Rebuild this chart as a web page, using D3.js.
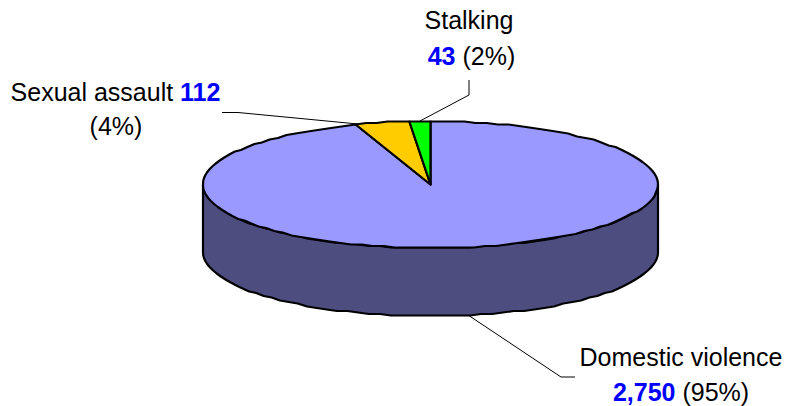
<!DOCTYPE html>
<html>
<head>
<meta charset="utf-8">
<script src="https://cdnjs.cloudflare.com/ajax/libs/d3/7.8.5/d3.min.js"></script>
<style>
    html, body { margin: 0; padding: 0; background: #fff; }
    text { font-family: "Liberation Sans", Arial, sans-serif; font-size: 25px; fill: #000; }
    .num { font-weight: bold; fill: #0000ff; }
</style>
</head>
<body>
<div id="chart"></div>
<script>
var categories = ["Domestic violence", "Sexual assault", "Stalking"];
var counts = [2750, 112, 43];
var percents = ["95%", "4%", "2%"];
var colors = ["#9999ff", "#ffcc00", "#00ff00"];

var width = 785, height = 406;
var cx = 430.5, cy = 184.5, rx = 227.5, ry = 63.5, depth = 68;
var grid = 1.5; // the original outline is coarse, snap the rim to a grid

var svg = d3.select("#chart").append("svg")
    .attr("width", width)
    .attr("height", height)
    .style("display", "block");

// tilted pie: unit circle squashed onto an ellipse
var xScale = d3.scaleLinear().domain([-1, 1]).range([cx - rx, cx + rx]);
var yScale = d3.scaleLinear().domain([-1, 1]).range([cy - ry, cy + ry]);

var slices = d3.pie().sort(null).startAngle(0).endAngle(2 * Math.PI)(counts);

function snap(v) {
    return Math.round(v / grid) * grid;
}

function rim(a0, a1, dy) {
    var n = Math.max(2, Math.ceil(Math.abs(a1 - a0) / 0.05));
    return d3.range(n + 1).map(function (i) {
        var a = a0 + (a1 - a0) * i / n;
        return [xScale(Math.sin(a)), snap(yScale(-Math.cos(a))) + dy];
    });
}

var line = d3.line();

// side wall (front half of the ellipse only)
var wall = rim(Math.PI / 2, 3 * Math.PI / 2, 0).concat(rim(3 * Math.PI / 2, Math.PI / 2, depth));
svg.append("path")
    .attr("d", line(wall) + "Z")
    .attr("fill", "#4d4d80")
    .attr("stroke", "#000")
    .attr("stroke-width", 2.2)
    .attr("stroke-linejoin", "round");

// top face
svg.selectAll("path.slice")
    .data(slices)
    .enter().append("path")
    .attr("class", "slice")
    .attr("d", function (d) {
        return line([[cx, cy]].concat(rim(d.startAngle, d.endAngle, 0))) + "Z";
    })
    .attr("fill", function (d, i) { return colors[i]; })
    .attr("stroke", "#000")
    .attr("stroke-width", 2.2)
    .attr("stroke-linejoin", "round");

// leader lines
var leaders = [
    [[468, 315], [561, 377], [575, 377]],
    [[358, 124], [238, 112.5], [222, 112.5]],
    [[420, 121], [469, 95], [469, 80]]
];
svg.selectAll("path.leader")
    .data(leaders)
    .enter().append("path")
    .attr("class", "leader")
    .attr("d", function (d) { return line(d); })
    .attr("fill", "none")
    .attr("stroke", "#000")
    .attr("stroke-width", 1);

var fmt = d3.format(",");

// labels
var t0 = svg.append("text").attr("text-anchor", "middle");
t0.append("tspan").attr("x", 681).attr("y", 366).text(categories[0]);
var l0 = t0.append("tspan").attr("x", 681).attr("y", 401);
l0.append("tspan").attr("class", "num").text(fmt(counts[0]));
l0.append("tspan").text(" (" + percents[0] + ")");

var t1 = svg.append("text").attr("text-anchor", "middle");
t1.append("tspan").attr("x", 115.5).attr("y", 101).text(categories[1] + " ");
t1.append("tspan").attr("class", "num").text(fmt(counts[1]));
t1.append("tspan").attr("x", 116).attr("y", 135).text("(" + percents[1] + ")");

var t2 = svg.append("text").attr("text-anchor", "middle");
t2.append("tspan").attr("x", 469).attr("y", 29).text(categories[2]);
var l2 = t2.append("tspan").attr("x", 471.5).attr("y", 65);
l2.append("tspan").attr("class", "num").text(fmt(counts[2]));
l2.append("tspan").text(" (" + percents[2] + ")");
</script>
</body>
</html>
